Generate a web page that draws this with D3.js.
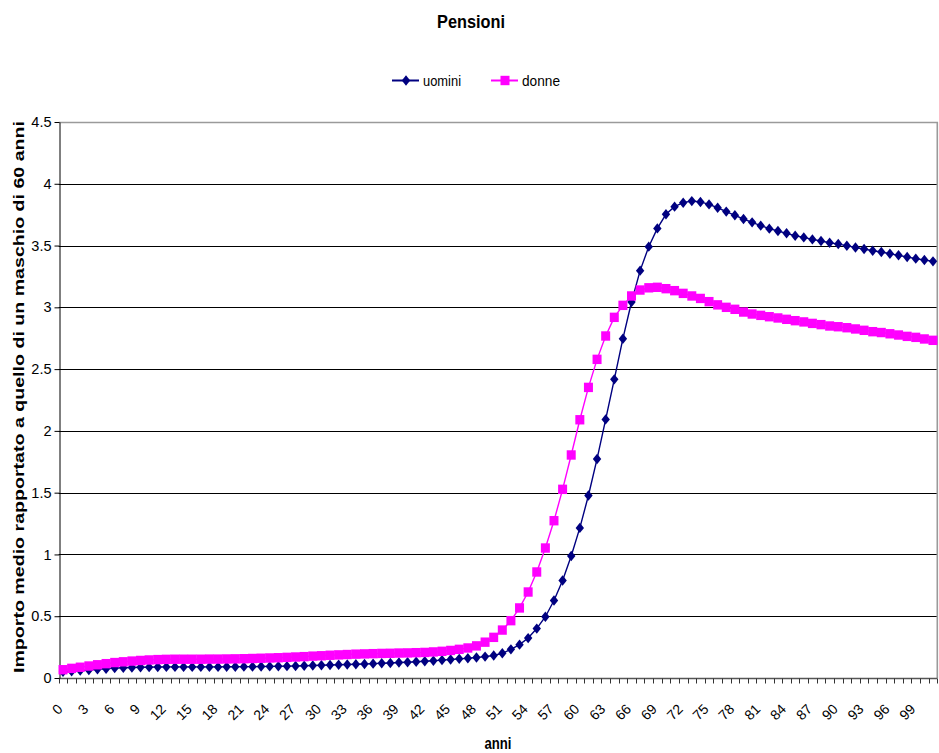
<!DOCTYPE html>
<html><head><meta charset="utf-8">
<script src="https://cdn.jsdelivr.net/npm/d3@7"></script>
<style>
html,body{margin:0;padding:0;background:#fff;}
svg{display:block;font-family:Arial,"Liberation Sans",sans-serif;}
</style>
</head><body>
<svg id="chart" width="939" height="753"></svg>
<script>
// ---- data ----
const ages = [0,1,2,3,4,5,6,7,8,9,10,11,12,13,14,15,16,17,18,19,20,21,22,23,24,25,26,27,28,29,30,
  31,32,33,34,35,36,37,38,39,40,41,42,43,44,45,46,47,48,49,50,51,52,53,54,55,56,57,58,59,60,
  61,62,63,64,65,66,67,68,69,70,71,72,73,74,75,76,77,78,79,80,81,82,83,84,85,86,87,88,89,90,
  91,92,93,94,95,96,97,98,99,100,101];
const uomini = [0.050,0.055,0.060,0.065,0.070,0.075,0.080,0.083,0.085,0.087,0.088,
  0.089,0.090,0.090,0.090,0.090,0.090,0.090,0.090,0.091,0.091,0.092,0.092,0.093,0.094,0.095,
  0.096,0.097,0.099,0.101,0.103,0.105,0.107,0.109,0.111,0.113,0.116,0.119,0.122,0.125,0.128,
  0.132,0.136,0.140,0.145,0.150,0.155,0.160,0.166,0.173,0.182,
  0.200,0.232,0.270,0.323,0.400,0.496,0.627,0.789,0.987,1.215,
  1.477,1.773,2.093,2.417,2.746,3.043,3.297,3.491,3.639,3.753,
  3.815,3.847,3.860,3.853,3.833,3.806,3.775,3.745,3.715,3.688,
  3.661,3.637,3.618,3.599,3.579,3.566,3.550,3.537,3.523,3.512,
  3.499,3.484,3.472,3.458,3.448,3.434,3.421,3.407,3.394,3.383,3.372];
const donne = [0.067,0.078,0.087,0.097,0.107,0.116,0.125,0.131,0.137,0.142,0.146,
  0.149,0.151,0.152,0.152,0.152,0.152,0.153,0.153,0.154,0.155,0.156,0.158,0.160,0.162,0.164,
  0.167,0.170,0.173,0.177,0.180,0.184,0.187,0.190,0.193,0.195,0.197,0.199,0.200,0.202,0.203,
  0.205,0.207,0.211,0.216,0.223,0.232,0.243,0.260,0.290,0.329,
  0.388,0.464,0.567,0.696,0.858,1.052,1.273,1.527,1.805,2.090,
  2.352,2.579,2.768,2.919,3.016,3.092,3.140,3.158,3.162,3.151,
  3.135,3.113,3.092,3.072,3.046,3.020,3.000,2.984,2.962,2.946,
  2.935,2.924,2.914,2.903,2.892,2.882,2.870,2.860,2.849,2.843,
  2.835,2.825,2.814,2.803,2.796,2.786,2.776,2.765,2.757,2.744,2.733];
const ageLabels = [0,3,6,9,12,15,18,21,24,27,30,33,36,39,42,45,48,51,54,57,60,63,66,69,72,75,78,81,84,87,90,93,96,99];
const yTicks = [0,0.5,1,1.5,2,2.5,3,3.5,4,4.5];
const seriesNames = ["uomini","donne"];
const colors = ["#000080","#FF00FF"];
const titleText = "Pensioni";
const xTitle = "anni";
const yTitle = "Importo medio rapportato a quello di un maschio di 60 anni";

// ---- layout ----
const svg = d3.select("#chart");
const plot = {left:58.7, right:937.3, top:122, bottom:678};
const x = d3.scaleBand().domain(ages).range([plot.left, plot.right]).paddingInner(0).paddingOuter(0);
const cx = a => x(a) + x.bandwidth()/2;
const y = d3.scaleLinear().domain([0,4.5]).range([plot.bottom, plot.top]);
const crisp = v => Math.round(v) + 0.5;

// gridlines
svg.append("g").selectAll("line").data(yTicks.filter(v => v > 0 && v < 4.5)).join("line")
  .attr("x1", plot.left).attr("x2", plot.right)
  .attr("y1", d => crisp(y(d))).attr("y2", d => crisp(y(d)))
  .attr("stroke", "#000").attr("stroke-width", 1);

// top & right border (gray)
svg.append("path")
  .attr("d", `M${plot.left},${crisp(y(4.5))}H${plot.right}V${plot.bottom}`)
  .attr("fill","none").attr("stroke","#9a9a9a").attr("stroke-width",1.6);

// x axis line & ticks
svg.append("line").attr("x1",plot.left).attr("x2",plot.right)
  .attr("y1",crisp(y(0))).attr("y2",crisp(y(0))).attr("stroke","#555").attr("stroke-width",1.3);
const bounds = ages.map(a => x(a)).concat([plot.right]);
svg.append("g").selectAll("line").data(bounds).join("line")
  .attr("x1", d => crisp(d)).attr("x2", d => crisp(d))
  .attr("y1", crisp(y(0))).attr("y2", crisp(y(0)) + 5)
  .attr("stroke", "#333").attr("stroke-width", 1);

// x labels
svg.append("g").selectAll("text").data(ageLabels).join("text")
  .attr("transform", a => `translate(${cx(a)+0.5},710) rotate(-45)`)
  .attr("text-anchor","end").attr("font-size",14).attr("fill","#000")
  .text(a => a);

// y axis
const yAxis = d3.axisLeft(y).tickValues(yTicks).tickSize(5).tickSizeOuter(0).tickFormat(d => d);
const gy = svg.append("g").attr("transform", `translate(${Math.round(plot.left)+0.5},0)`).call(yAxis);
gy.select(".domain").attr("stroke","#000");
gy.selectAll(".tick line").attr("stroke","#000");
gy.selectAll(".tick text").attr("font-size",14.5).attr("font-family","Arial, 'Liberation Sans', sans-serif").attr("fill","#000").attr("x",-8);

// series lines
const line = d3.line().x((d,i) => cx(ages[i])).y(d => y(d));
const series = [uomini, donne];
series.forEach((s, k) => {
  svg.append("path").datum(s).attr("d", line)
    .attr("fill","none").attr("stroke", colors[k]).attr("stroke-width", 1.4);
});
// markers
const diamond = "M0,-5.2L4.2,0L0,5.2L-4.2,0Z";
svg.append("g").selectAll("path").data(uomini).join("path")
  .attr("transform", (d,i) => `translate(${cx(ages[i])},${y(d)})`)
  .attr("d", diamond).attr("fill", colors[0]);
svg.append("g").selectAll("rect").data(donne).join("rect")
  .attr("x", (d,i) => cx(ages[i]) - 4.5).attr("y", d => y(d) - 4.7)
  .attr("width", 9).attr("height", 9.4).attr("fill", colors[1]);

// title
svg.append("text").attr("x", 471).attr("y", 28).attr("text-anchor","middle")
  .attr("font-size", 19).attr("font-weight","bold")
  .attr("textLength", 68).attr("lengthAdjust","spacingAndGlyphs").text(titleText);

// legend
const leg = svg.append("g");
const legItems = [{x:392, name:seriesNames[0], c:colors[0], shape:"d", tl:38},
                  {x:491, name:seriesNames[1], c:colors[1], shape:"s", tl:38}];
legItems.forEach(it => {
  leg.append("line").attr("x1", it.x).attr("x2", it.x+27).attr("y1",80.5).attr("y2",80.5)
    .attr("stroke", it.c).attr("stroke-width", 2);
  if (it.shape === "d") {
    leg.append("path").attr("transform",`translate(${it.x+14},80.5)`).attr("d",diamond).attr("fill",it.c);
  } else {
    leg.append("rect").attr("x", it.x+9.5).attr("y", 75.8).attr("width",9).attr("height",9.4).attr("fill",it.c);
  }
  leg.append("text").attr("x", it.x+31).attr("y", 86).attr("font-size",14)
    .attr("textLength", it.tl).attr("lengthAdjust","spacingAndGlyphs").text(it.name);
});

// axis titles
svg.append("text").attr("x", 498).attr("y", 749).attr("text-anchor","middle")
  .attr("font-size", 16).attr("font-weight","bold")
  .attr("textLength", 27).attr("lengthAdjust","spacingAndGlyphs").text(xTitle);
svg.append("text").attr("transform","translate(24,397) rotate(-90)").attr("text-anchor","middle")
  .attr("font-size", 14).attr("font-weight","bold")
  .attr("textLength", 552).attr("lengthAdjust","spacingAndGlyphs").text(yTitle);
</script>
</body></html>
